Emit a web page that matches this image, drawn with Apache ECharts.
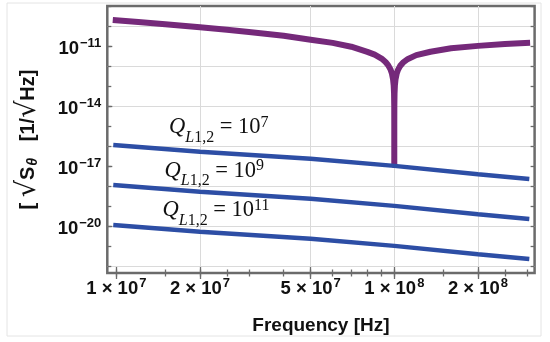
<!DOCTYPE html>
<html><head><meta charset="utf-8">
<script src="https://cdn.jsdelivr.net/npm/echarts@6/dist/echarts.min.js"></script>
<style>html,body{margin:0;padding:0;background:#fff}#c{width:550px;height:342px}</style>
</head><body><div id="c"></div>
<script>
// ---- data ----
const freqPurple = [9.71e6, 1.2e7, 1.5e7, 2e7, 2.5e7, 3e7, 4e7, 5e7, 6e7, 7e7, 8e7, 8.5e7, 9e7, 9.3e7, 9.5e7, 9.7e7, 9.8e7, 9.9e7, 9.95e7, 9.98e7, 9.995e7, 9.9995e7, 1e8, 1.00005e8, 1.0005e8, 1.002e8, 1.005e8, 1.01e8, 1.02e8, 1.03e8, 1.05e8, 1.08e8, 1.12e8, 1.2e8, 1.35e8, 1.6e8, 2e8, 2.5e8, 3.08e8];
const valuesPurple = [2.17e-10, 1.72e-10, 1.33e-10, 9.4e-11, 7.0e-11, 5.45e-11, 3.5e-11, 2.25e-11, 1.55e-11, 1.0e-11, 5.5e-12, 4.0e-12, 2.55e-12, 1.72e-12, 1.2e-12, 7.1e-13, 4.7e-13, 2.3e-13, 1.15e-13, 4.6e-14, 1.15e-14, 1.2e-15, 1.2e-17, 1.2e-15, 1.15e-14, 4.6e-14, 1.15e-13, 2.3e-13, 4.5e-13, 6.7e-13, 1.1e-12, 1.7e-12, 2.45e-12, 3.8e-12, 5.6e-12, 8.3e-12, 1.1e-11, 1.38e-11, 1.58e-11];
const freqBlue = [9.75e6, 2e7, 5e7, 1e8, 2e8, 3.06e8];
const valuesQ7 = [1.22e-16, 5.6e-17, 2.5e-17, 1.1e-17, 4.2e-18, 2.43e-18];
const valuesQ9 = [1.22e-18, 5.6e-19, 2.5e-19, 1.1e-19, 4.2e-20, 2.43e-20];
const valuesQ11 = [1.22e-20, 5.6e-21, 2.5e-21, 1.1e-21, 4.2e-22, 2.43e-22];
const xLabelTicks = [1e7, 2e7, 5e7, 1e8, 2e8];
const xMinorTicks = [1e7, 1.5e7, 2e7, 2.5e7, 3e7, 4e7, 5e7, 6e7, 7e7, 8e7, 9e7, 1e8, 1.5e8, 2e8, 2.5e8, 3e8];
const xGridValues = [2e7, 5e7, 1e8, 2e8];
const yLabelTicks = [1e-20, 1e-17, 1e-14, 1e-11];
const yMinorTicks = [1e-22, 1e-21, 1e-20, 1e-19, 1e-18, 1e-17, 1e-16, 1e-15, 1e-14, 1e-13, 1e-12, 1e-11, 1e-10, 1e-9];
const yGridValues = [1e-22, 1e-20, 1e-18, 1e-16, 1e-14, 1e-12, 1e-10];
const qLabels = ['7', '9', '11'];
const X_MIN = 9.28e6, X_MAX = 3.197e8;
const Y_MIN = 4.84e-23, Y_MAX = 1.084e-9;

const SANS = 'Liberation Sans, Arial, Helvetica, sans-serif';
const SERIF = 'Liberation Serif, Times New Roman, serif';
const FRAME = '#6b6b6b';
const GRIDC = '#dadada';
const PURPLE = '#75297a';
const BLUE = '#2d4ea5';

function pairs(xs, ys) { return xs.map((x, i) => [x, ys[i]]); }
function expOf(v) { return Math.round(Math.log10(v)); }
const labelRich = {
  b: { fontSize: 18.5, fontWeight: 'bold', fontFamily: SANS, color: '#111', padding: [4, 0, 0, 0], lineHeight: 24 },
  sup: { fontSize: 13, fontWeight: 'bold', fontFamily: SANS, color: '#111', padding: [0, 0, 7, 1], lineHeight: 24 }
};

function xAx(extra) {
  return Object.assign({
    type: 'log', gridIndex: 0, min: X_MIN, max: X_MAX, position: 'bottom',
    axisLine: { show: false }, axisLabel: { show: false }, splitLine: { show: false },
    axisTick: { show: false }
  }, extra);
}
function yAx(extra) {
  return Object.assign({
    type: 'log', gridIndex: 0, min: Y_MIN, max: Y_MAX, position: 'left',
    axisLine: { show: false }, axisLabel: { show: false }, splitLine: { show: false },
    axisTick: { show: false }
  }, extra);
}
const tickStyle = { color: FRAME, width: 1.3 };

const option = {
  animation: false,
  backgroundColor: '#fff',
  grid: [{ left: 107.3, top: 6, right: 15.4, bottom: 69, show: true, borderColor: FRAME, borderWidth: 2.5, backgroundColor: 'transparent', containLabel: false, outerBoundsMode: 'none' }],
  xAxis: [
    xAx({
      axisTick: { show: true, inside: true, length: 6, customValues: xLabelTicks, lineStyle: tickStyle },
      axisLabel: {
        show: true, customValues: xLabelTicks, margin: 2,
        formatter: v => { const e = Math.floor(Math.log10(v) + 1e-9); const m = Math.round(v / Math.pow(10, e)); return '{b|' + m + ' \u00d7 10}{sup|' + e + '}'; },
        rich: labelRich
      },
      name: 'Frequency [Hz]', nameLocation: 'middle', nameGap: 43,
      nameTextStyle: { fontSize: 19, fontWeight: 'bold', fontFamily: SANS, color: '#111' }
    }),
    xAx({ axisTick: { show: true, inside: true, length: 3.5, customValues: xMinorTicks, lineStyle: tickStyle } }),
    xAx({ position: 'top', axisTick: { show: true, inside: true, length: 6, customValues: xLabelTicks, lineStyle: tickStyle } }),
    xAx({ position: 'top', axisTick: { show: true, inside: true, length: 3.5, customValues: xMinorTicks, lineStyle: tickStyle } }),
    xAx({ axisTick: { show: false, customValues: xGridValues }, splitLine: { show: true, lineStyle: { color: GRIDC, width: 1 } } })
  ],
  yAxis: [
    yAx({
      axisTick: { show: true, inside: true, length: 5, customValues: yLabelTicks, lineStyle: tickStyle },
      axisLabel: {
        show: true, customValues: yLabelTicks, margin: 6,
        formatter: v => '{b|10}{sup|\u2212' + Math.abs(expOf(v)) + '}',
        rich: labelRich
      },
      name: '{b|[ }{rad|\u221a}{b|S}{th|\u03b8}{b|   [1/}{rad|\u221a}{b|Hz]}',
      nameLocation: 'middle', nameGap: 65, nameRotate: 90,
      nameTextStyle: {
        rich: {
          b: { fontSize: 20, fontWeight: 'bold', fontFamily: SANS, color: '#111', lineHeight: 28 },
          rad: { fontSize: 27, fontFamily: 'DejaVu Sans, sans-serif', color: '#111', lineHeight: 28 },
          th: { fontSize: 14, fontWeight: 'bold', fontStyle: 'italic', fontFamily: SANS, color: '#111', padding: [9, 0, 0, 1], lineHeight: 28 }
        }
      }
    }),
    yAx({ axisTick: { show: true, inside: true, length: 4, customValues: yMinorTicks, lineStyle: tickStyle } }),
    yAx({ position: 'right', axisTick: { show: true, inside: true, length: 4, customValues: yMinorTicks, lineStyle: tickStyle } }),
    yAx({ axisTick: { show: false, customValues: yGridValues }, splitLine: { show: true, lineStyle: { color: GRIDC, width: 1 } } })
  ],
  graphic: [
    { type: 'rect', shape: { x: 7, y: 3, width: 534, height: 333 }, style: { fill: 'none', stroke: '#e4e4e4', lineWidth: 1 }, z: -10, silent: true }
  ].concat(qLabels.map((p, i) => ({
    type: 'text', x: [169, 164.5, 162.5][i], y: [127.5, 170.8, 210.5][i], z: 50, silent: true,
    style: {
      text: '{q|Q}{si|L}{s|1,2}{m| = 10}{p|' + p + '}',
      align: 'left', verticalAlign: 'middle',
      rich: {
        q: { fontSize: 22.5, fontStyle: 'italic', fontFamily: SERIF, fill: '#111', lineHeight: 34 },
        si: { fontSize: 16, fontStyle: 'italic', fontFamily: SERIF, fill: '#111', padding: [20, 0, 0, 0], lineHeight: 34 },
        s: { fontSize: 16, fontFamily: SERIF, fill: '#111', padding: [20, 0, 0, 0], lineHeight: 34 },
        m: { fontSize: 22.5, fontFamily: SERIF, fill: '#111', lineHeight: 34 },
        p: { fontSize: 16, fontFamily: SERIF, fill: '#111', padding: [0, 0, 10, 0], lineHeight: 34 }
      }
    }
  }))),
  series: [
    { type: 'line', name: 'S', xAxisIndex: 0, yAxisIndex: 0, data: pairs(freqPurple, valuesPurple), symbol: 'none', showSymbol: false, lineStyle: { color: PURPLE, width: 6, join: 'round', cap: 'butt' }, z: 2 },
    { type: 'line', name: 'Q7', xAxisIndex: 0, yAxisIndex: 0, data: pairs(freqBlue, valuesQ7), symbol: 'none', showSymbol: false, lineStyle: { color: BLUE, width: 4.5 }, z: 3 },
    { type: 'line', name: 'Q9', xAxisIndex: 0, yAxisIndex: 0, data: pairs(freqBlue, valuesQ9), symbol: 'none', showSymbol: false, lineStyle: { color: BLUE, width: 4.5 }, z: 3 },
    { type: 'line', name: 'Q11', xAxisIndex: 0, yAxisIndex: 0, data: pairs(freqBlue, valuesQ11), symbol: 'none', showSymbol: false, lineStyle: { color: BLUE, width: 4.5 }, z: 3 }
  ]
};
const chart = echarts.init(document.getElementById('c'), null, { renderer: 'canvas' });
chart.setOption(option);
</script></body></html>
